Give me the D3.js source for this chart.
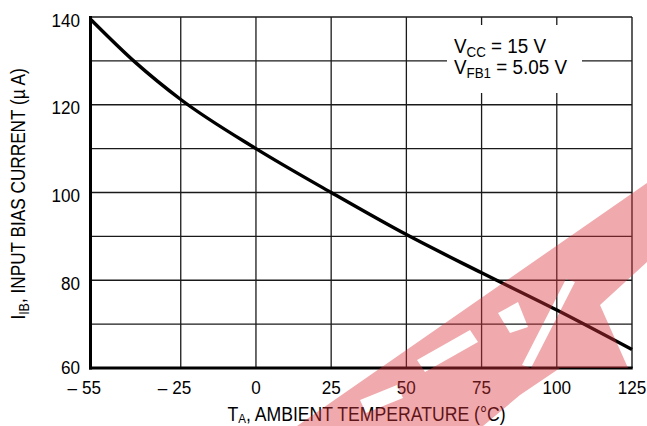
<!DOCTYPE html>
<html>
<head>
<meta charset="utf-8">
<script src="https://cdn.jsdelivr.net/npm/d3@7"></script>
<style>
  html, body { margin: 0; padding: 0; background: #fff; }
  svg { display: block; }
  text { font-family: 'Liberation Sans', Arial, sans-serif; fill: #000; }
</style>
</head>
<body>
<svg id="chart" width="647" height="426"></svg>
<script>
// ---- data ----
const temps = [-55, -40, -25, 0, 25, 50, 75, 100, 125];
const ibValues = [139.5, 129.6, 121.2, 110.0, 100.0, 90.4, 81.7, 73.2, 64.2];
const xTicks = [-55, -25, 0, 25, 50, 75, 100, 125];
const xTickLabels = ["– 55", "– 25", "0", "25", "50", "75", "100", "125"];
const yTicks = [60, 80, 100, 120, 140];
const yTickLabels = ["60", "80", "100", "120", "140"];
const xGridValues = [-25, 0, 25, 50, 75, 100];
const yGridValues = [70, 80, 90, 100, 110, 120, 130];
const legendLines = [["V", "CC", " = 15 V"], ["V", "FB1", " = 5.05 V"]];

// ---- layout ----
const svg = d3.select("#chart");
const x = d3.scaleLinear().domain([-55, 125]).range([90.5, 632]);
const y = d3.scaleLinear().domain([60, 140]).range([368, 17]);

function ctext(parent, px, py, size, anchor, sx, extra) {
  return parent.append("text")
    .attr("transform", `translate(${px},${py}) ${extra || ""} scale(${sx},1)`)
    .attr("font-size", size).attr("text-anchor", anchor || "start");
}

// grid
const g = svg.append("g");
g.selectAll(".hg").data(yGridValues).enter().append("line")
  .attr("x1", x(-55)).attr("x2", x(125))
  .attr("y1", d => y(d)).attr("y2", d => y(d))
  .attr("stroke", "#1a1a1a").attr("stroke-width", 1.3);
g.selectAll(".vg").data(xGridValues).enter().append("line")
  .attr("x1", d => x(d)).attr("x2", d => x(d))
  .attr("y1", y(140)).attr("y2", y(60))
  .attr("stroke", "#1a1a1a").attr("stroke-width", 1.3);

// frame: thin top/right
g.append("line").attr("x1", x(-55)).attr("x2", x(125)).attr("y1", y(140)).attr("y2", y(140))
  .attr("stroke", "#1a1a1a").attr("stroke-width", 1.4);
g.append("line").attr("x1", x(125)).attr("x2", x(125)).attr("y1", y(140)).attr("y2", y(60))
  .attr("stroke", "#1a1a1a").attr("stroke-width", 1.4);

// legend box (white, covers grid)
const lg = svg.append("g");
lg.append("rect").attr("x", 447).attr("y", 25).attr("width", 135).attr("height", 68).attr("fill", "#fff");
legendLines.forEach((ln, i) => {
  const t = ctext(lg, 454, 53 + i * 21, 20.5, "start", 0.92);
  t.append("tspan").text(ln[0]);
  t.append("tspan").attr("font-size", 14.5).attr("dy", 4).text(ln[1]);
  t.append("tspan").attr("dy", -4).text(ln[2]);
});

// thick left/bottom axes
g.append("line").attr("x1", x(-55)).attr("x2", x(-55)).attr("y1", y(140) - 1).attr("y2", y(60) + 1.5)
  .attr("stroke", "#000").attr("stroke-width", 3);
g.append("line").attr("x1", x(-55) - 1.5).attr("x2", x(125) + 0.7).attr("y1", y(60)).attr("y2", y(60))
  .attr("stroke", "#000").attr("stroke-width", 3);

// curve
const line = d3.line().x((d, i) => x(temps[i])).y(d => y(d)).curve(d3.curveMonotoneX);
svg.append("path").datum(ibValues).attr("d", line)
  .attr("fill", "none").attr("stroke", "#000").attr("stroke-width", 3.4)
  .attr("stroke-linecap", "butt");

// y tick labels
yTicks.forEach((v, i) => {
  ctext(svg, 80, y(v) + (v === 60 ? 6 : 9.5), 19, "end", 0.9).text(yTickLabels[i]);
});

// x tick labels (number centred on tick, dash hangs left)
xTicks.forEach((v, i) => {
  const lab = xTickLabels[i];
  const neg = lab.startsWith("–");
  const num = neg ? lab.replace("– ", "") : lab;
  const cx = x(v) + (neg ? 1 : 0);
  const t = ctext(svg, cx, 394, 19, "middle", 0.9).text(num);
  if (neg) {
    const w = t.node().getComputedTextLength() * 0.9;
    ctext(svg, cx - w / 2 - 5, 394, 19, "end", 0.9).text("–");
  }
});

// x axis title
const xt = ctext(svg, 366.5, 420.5, 20.5, "middle", 0.86);
xt.append("tspan").text("T");
xt.append("tspan").attr("font-size", 13.5).attr("dy", 2).text("A");
xt.append("tspan").attr("dy", -2).text(", AMBIENT TEMPERATURE (°C)");

// y axis title
const yt = ctext(svg, 25, 194, 20, "middle", 0.86, "rotate(-90)");
yt.append("tspan").text("I");
yt.append("tspan").attr("font-size", 14.5).attr("dy", 4).text("IB");
yt.append("tspan").attr("dy", -4).text(", INPUT BIAS CURRENT (µ A)");

// decorative watermark overlay (not data)
const wm = svg.append("g").attr("fill", "rgba(220,50,58,0.42)");
const wmPath = "M297,426 L647,183 L647,262 L600,305 L628,368 L560,368 L520,395 L483,426 Z " +
  "M417,360 L470,330 L478,342 L425,372 Z " +
  "M360,400 L397,385 L403,398 L366,413 Z " +
  "M498,313 L518,302 L528,327 L510,333 Z " +
  "M522,365 L566,279 L575,282 L531,368 Z";
wm.append("path").attr("d", wmPath).attr("fill-rule", "evenodd");
</script>
</body>
</html>
